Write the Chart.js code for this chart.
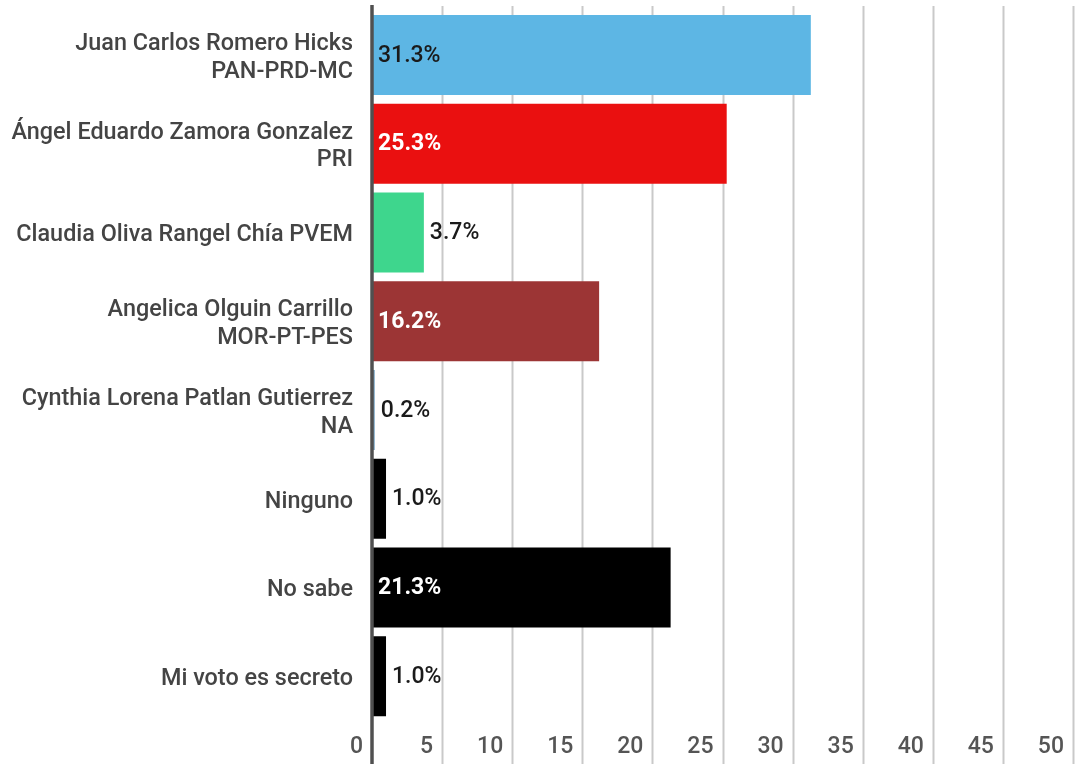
<!DOCTYPE html>
<html>
<head>
<meta charset="utf-8">
<script src="https://cdn.jsdelivr.net/npm/chart.js@4.4.1/dist/chart.umd.min.js"></script>
<style>
html,body{margin:0;padding:0;background:#fff;}
#wrap{width:1076px;height:764px;position:relative;}
</style>
</head>
<body>
<div id="wrap"><canvas id="c" width="1076" height="764"></canvas></div>
<script>
const categories = [
  ["Juan Carlos Romero Hicks", "PAN-PRD-MC"],
  ["Ángel Eduardo Zamora Gonzalez", "PRI"],
  "Claudia Oliva Rangel Chía PVEM",
  ["Angelica Olguin Carrillo", "MOR-PT-PES"],
  ["Cynthia Lorena Patlan Gutierrez", "NA"],
  "Ninguno",
  "No sabe",
  "Mi voto es secreto"
];
const values = [31.3, 25.3, 3.7, 16.2, 0.2, 1.0, 21.3, 1.0];
const barColors = ["#5db6e4", "#ea1010", "#3ed68d", "#9c3535", "#7fa9c7", "#000000", "#000000", "#000000"];
const labelInside = [true, true, false, true, false, false, true, false];
const labelColors = ["#1a1a1a", "#ffffff", "#1a1a1a", "#ffffff", "#1a1a1a", "#1a1a1a", "#ffffff", "#1a1a1a"];
const labelBold = [false, true, false, true, false, false, true, false];
const xTicks = [0, 5, 10, 15, 20, 25, 30, 35, 40, 45, 50];

const FONT = "Roboto";

const gridPlugin = {
  id: 'fullGrid',
  beforeDatasetsDraw(chart) {
    const ctx = chart.ctx, xs = chart.scales.x;
    ctx.save();
    ctx.strokeStyle = '#c9c9c9';
    ctx.lineWidth = 2;
    xTicks.forEach(v => {
      if (v === 0) return;
      const x = Math.round(xs.getPixelForValue(v)) + 0.5;
      ctx.beginPath(); ctx.moveTo(x, 6); ctx.lineTo(x, 764); ctx.stroke();
    });
    ctx.restore();
  },
  afterDatasetsDraw(chart) {
    const ctx = chart.ctx, xs = chart.scales.x;
    ctx.save();
    const x0 = xs.getPixelForValue(0);
    ctx.strokeStyle = '#505050';
    ctx.lineWidth = 3.5;
    ctx.beginPath(); ctx.moveTo(x0, 5); ctx.lineTo(x0, 764); ctx.stroke();
    const meta = chart.getDatasetMeta(0);
    meta.data.forEach((bar, i) => {
      const txt = values[i].toFixed(1) + '%';
      ctx.font = (labelBold[i] ? 'bold ' : '500 ') + '23px ' + FONT;
      ctx.fillStyle = labelColors[i];
      ctx.textAlign = 'left';
      ctx.textBaseline = 'middle';
      const x = labelInside[i] ? x0 + 6 : bar.x + 6;
      ctx.fillText(txt, x, bar.y + 1);
    });
    ctx.restore();
  }
};

new Chart(document.getElementById('c'), {
  type: 'bar',
  data: {
    labels: categories,
    datasets: [{
      data: values,
      backgroundColor: barColors,
      borderWidth: 0,
      barPercentage: 0.9,
      categoryPercentage: 1.0
    }]
  },
  options: {
    indexAxis: 'y',
    responsive: false,
    animation: false,
    devicePixelRatio: 1,
    layout: { padding: { top: 10.6, right: 3, left: 0, bottom: 0 } },
    plugins: { legend: { display: false }, tooltip: { enabled: false } },
    scales: {
      x: {
        min: 0, max: 50,
        afterBuildTicks(scale) { scale.ticks = xTicks.map(v => ({ value: v })); },
        afterFit(scale) { scale.height = 43.4; scale.paddingLeft = 0; scale.paddingRight = 0; },
        grid: { display: false, drawTicks: false },
        border: { display: false },
        ticks: {
          align: 'end',
          labelOffset: -9,
          padding: 13,
          color: '#555555',
          font: { family: FONT, size: 23, weight: '500' },
          callback: v => String(v)
        }
      },
      y: {
        afterFit(scale) { scale.width = 372; scale.paddingTop = 0; scale.paddingBottom = 0; },
        grid: { display: false, drawTicks: false },
        border: { display: false },
        ticks: {
          padding: 19,
          labelOffset: 3,
          color: '#444444',
          font: { family: FONT, size: 23.4, weight: '500', lineHeight: 1.18 }
        }
      }
    }
  },
  plugins: [gridPlugin]
});
</script>
</body>
</html>
